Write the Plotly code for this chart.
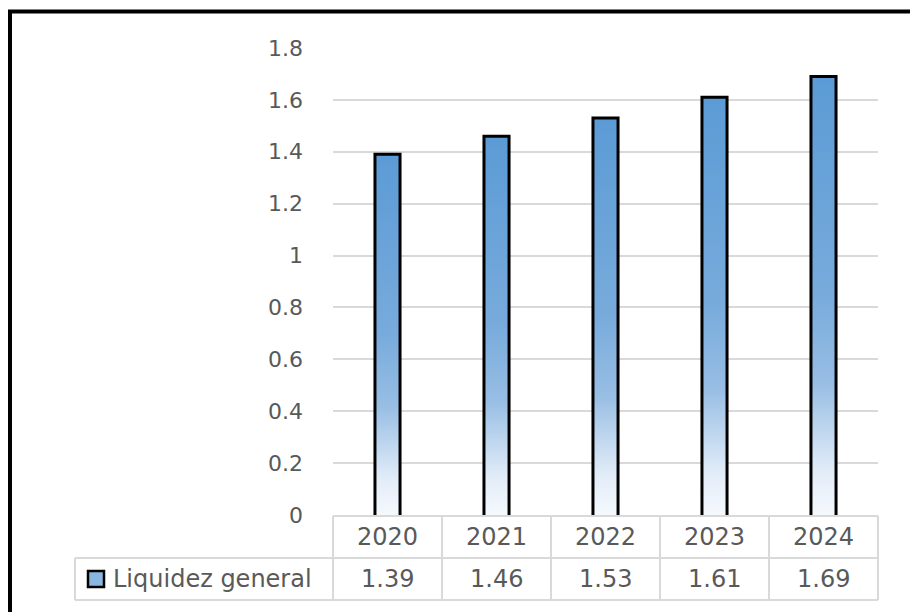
import plotly.graph_objects as go

# Data
years = ["2020", "2021", "2022", "2023", "2024"]
liquidez = [1.39, 1.46, 1.53, 1.61, 1.69]
series_name = "Liquidez general"
y_ticks = [0, 0.2, 0.4, 0.6, 0.8, 1.0, 1.2, 1.4, 1.6, 1.8]
y_tick_labels = ["0", "0.2", "0.4", "0.6", "0.8", "1", "1.2", "1.4", "1.6", "1.8"]

# Layout geometry (pixels)
W, H = 910, 612
L, R, T, B = 333, 32, 48, 97
PW, PH = W - L - R, H - T - B

def px(x):
    return (x - L) / PW

def py(y):
    return (H - B - y) / PH

TEXT = "#595959"
GRID = "#d9d9d9"
FONT = "DejaVu Sans"
BAR_W = 0.23

gradient = [[0.0, "#f5f9fd"], [0.1, "#e2ecf8"], [0.2, "#bdd5ee"],
            [0.3, "#98bee4"], [0.5, "#78abdc"], [1.0, "#5b9bd5"]]

fig = go.Figure()
for i, (yr, v) in enumerate(zip(years, liquidez)):
    fig.add_trace(go.Scatter(
        x=[i - BAR_W / 2, i - BAR_W / 2, i + BAR_W / 2, i + BAR_W / 2],
        y=[0, v, v, 0],
        mode="lines",
        fill="tozeroy",
        fillgradient=dict(type="vertical", colorscale=gradient, start=0, stop=v),
        line=dict(color="black", width=3),
        name=series_name,
        hovertemplate=f"{yr}: {v:.2f}<extra></extra>",
        showlegend=False,
    ))

fig.update_xaxes(range=[-0.5, len(years) - 0.5], showgrid=False, zeroline=False,
                 showticklabels=False, ticks="", showline=False, fixedrange=True)
fig.update_yaxes(range=[0, 1.8], tickvals=y_ticks, ticktext=y_tick_labels,
                 showgrid=True, gridcolor=GRID, gridwidth=2, zeroline=False,
                 showline=False, ticks="", ticklabelstandoff=29,
                 tickfont=dict(family=FONT, size=22, color=TEXT), fixedrange=True)

shapes = []
annotations = []
line_style = dict(color=GRID, width=2)

# Data table below the plot
row_top, row_mid, row_bot = 516, 558, 600
col_edges = [L + PW * k / len(years) for k in range(len(years) + 1)]
legend_left = 75

shapes.append(dict(type="line", xref="paper", yref="paper", x0=px(col_edges[0]), x1=px(col_edges[-1]),
                   y0=py(row_top), y1=py(row_top), line=line_style))
shapes.append(dict(type="line", xref="paper", yref="paper", x0=px(legend_left), x1=px(col_edges[-1]),
                   y0=py(row_mid), y1=py(row_mid), line=line_style))
shapes.append(dict(type="line", xref="paper", yref="paper", x0=px(legend_left), x1=px(col_edges[-1]),
                   y0=py(row_bot), y1=py(row_bot), line=line_style))
shapes.append(dict(type="line", xref="paper", yref="paper", x0=px(legend_left), x1=px(legend_left),
                   y0=py(row_mid), y1=py(row_bot), line=line_style))
for xe in col_edges:
    shapes.append(dict(type="line", xref="paper", yref="paper", x0=px(xe), x1=px(xe),
                       y0=py(row_top), y1=py(row_bot), line=line_style))

for k, (yr, v) in enumerate(zip(years, liquidez)):
    cx = (col_edges[k] + col_edges[k + 1]) / 2
    annotations.append(dict(xref="paper", yref="paper", x=px(cx), y=py((row_top + row_mid) / 2),
                            text=yr, showarrow=False, xanchor="center", yanchor="middle",
                            font=dict(family=FONT, size=24, color=TEXT)))
    annotations.append(dict(xref="paper", yref="paper", x=px(cx), y=py((row_mid + row_bot) / 2),
                            text=f"{v:.2f}", showarrow=False, xanchor="center", yanchor="middle",
                            font=dict(family=FONT, size=24, color=TEXT)))

# Legend key and series label in the table
shapes.append(dict(type="rect", xref="paper", yref="paper", x0=px(88), x1=px(104),
                   y0=py(587), y1=py(571), fillcolor="#8ab6e2",
                   line=dict(color="black", width=2.5)))
annotations.append(dict(xref="paper", yref="paper", x=px(111), y=py((row_mid + row_bot) / 2),
                        text=series_name, showarrow=False, xanchor="left", yanchor="middle",
                        font=dict(family=FONT, size=24, color=TEXT)))

# Outer chart border
shapes.append(dict(type="rect", xref="paper", yref="paper", x0=px(10), x1=px(W + 40),
                   y0=py(H + 40), y1=py(11.5), line=dict(color="black", width=4),
                   fillcolor="rgba(0,0,0,0)"))

fig.update_layout(
    width=W, height=H,
    margin=dict(l=L, r=R, t=T, b=B),
    paper_bgcolor="white", plot_bgcolor="white",
    showlegend=False,
    shapes=shapes, annotations=annotations,
)

fig.write_html("out.html")
